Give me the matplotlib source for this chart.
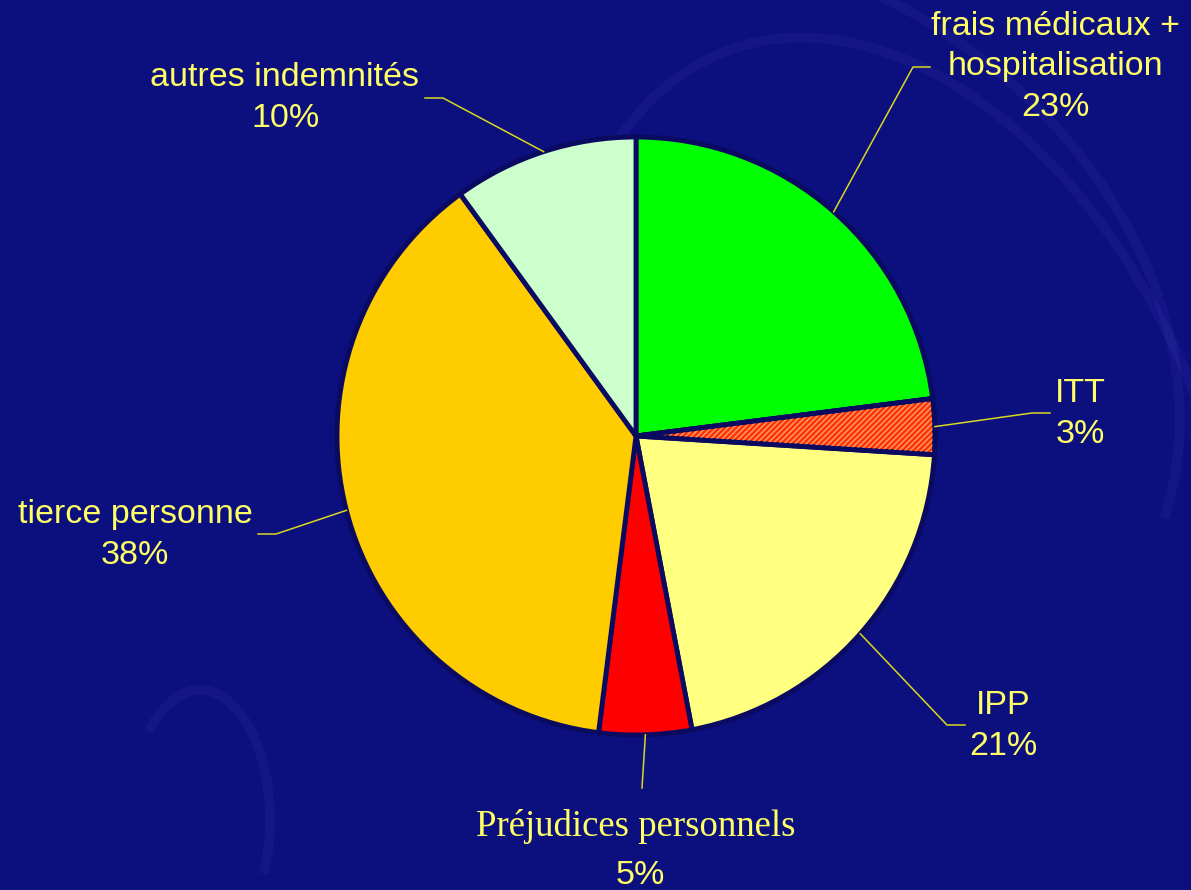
import matplotlib.pyplot as plt
from matplotlib.patches import Wedge, Arc
import numpy as np

# pie data, clockwise from 12 o'clock
labels = ['frais médicaux +\nhospitalisation', 'ITT', 'IPP',
          'Préjudices personnels', 'tierce personne', 'autres indemnités']
shares = [23, 3, 21, 5, 38, 10]
colors = ['#00FF00', '#FF3300', '#FFFF80', '#FF0000', '#FFCC00', '#CCFFCC']

# label text centre and leader elbow (pixel coords, y from top)
label_pos = [(1055, 67), (1080, 414), (1003, 726), (636, 826), (135, 535), (285, 98)]
elbows = [(913, 67), (1032, 413), (947, 725), (642, 788), (276, 534), (443, 98)]
tails = [(930, 67), (1050, 413), (965, 725), None, (258, 534), (425, 98)]

W, H = 1191, 890
bg = '#0C0F7E'
txt_col = '#FFFF66'
line_col = '#D8D820'

fig = plt.figure(figsize=(W / 100, H / 100), dpi=100)
fig.patch.set_facecolor(bg)
ax = fig.add_axes([0, 0, 1, 1])

def fy(y):
    return H - y

# faint background swirls
swirl = dict(color='#3a3ab8', alpha=0.18, lw=7, zorder=0)
ax.add_patch(Arc((900, fy(520)), 640, 1000, angle=20, theta1=-60, theta2=120, **swirl))
ax.add_patch(Arc((760, fy(330)), 900, 700, angle=-35, theta1=10, theta2=110, **swirl))
ax.add_patch(Arc((200, fy(820)), 140, 260, angle=0, theta1=-40, theta2=120, **swirl))

cx, cy, r = 636, fy(436), 299

wedges, _ = ax.pie(shares, colors=colors, startangle=90, counterclock=False,
                   center=(cx, cy), radius=r, frame=True,
                   wedgeprops=dict(edgecolor='#0A0A60', linewidth=3.5))
ax.set_xlim(0, W)
ax.set_ylim(0, H)
ax.set_aspect('equal')
ax.axis('off')

# hatch on ITT
w = wedges[1]
plt.rcParams['hatch.linewidth'] = 1.0
ax.add_patch(Wedge(w.center, w.r, w.theta1, w.theta2, facecolor='none',
                   edgecolor='#FFA070', hatch='//////', linewidth=0,
                   zorder=w.get_zorder() + 0.1))
ax.add_patch(Wedge(w.center, w.r, w.theta1, w.theta2, facecolor='none',
                   edgecolor='#0A0A60', linewidth=3.5, zorder=w.get_zorder() + 0.2))

total = sum(shares)
for i, (lab, v) in enumerate(zip(labels, shares)):
    wd = wedges[i]
    mid = np.deg2rad((wd.theta1 + wd.theta2) / 2)
    sx, sy = cx + r * np.cos(mid), cy + r * np.sin(mid)
    ex, ey = elbows[i]
    xs, ys = [sx, ex], [sy, fy(ey)]
    if tails[i] is not None:
        xs.append(tails[i][0])
        ys.append(fy(tails[i][1]))
    ax.plot(xs, ys, color=line_col, lw=1.1, zorder=5)
    pct = f'{round(100 * v / total)}%'
    lx, ly = label_pos[i]
    if lab.startswith('Préj'):
        ax.text(lx, fy(ly), lab, color=txt_col, fontsize=26.5, family='Liberation Serif',
                ha='center', va='center')
        ax.text(lx + 4, fy(876), pct, color=txt_col, fontsize=24.5, family='Liberation Sans',
                ha='center', va='center')
    else:
        ax.text(lx, fy(ly), lab + '\n' + pct, color=txt_col, fontsize=24.5,
                family='Liberation Sans', ha='center', va='center', linespacing=1.4)

fig.savefig('out.png', dpi=100, facecolor=bg)
